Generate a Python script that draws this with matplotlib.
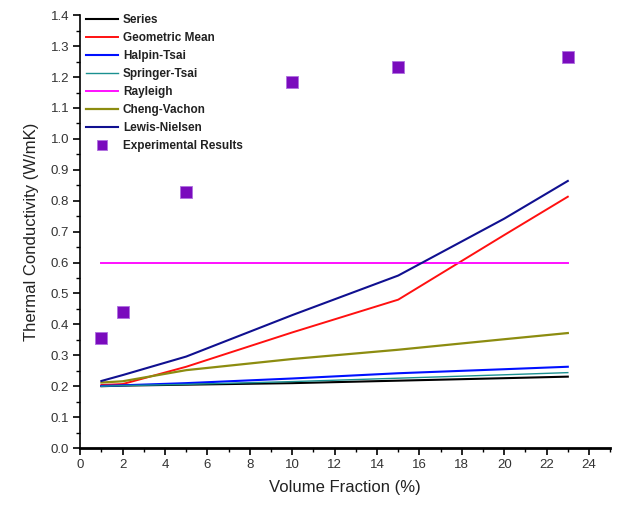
import matplotlib
matplotlib.use("Agg")
import matplotlib.pyplot as plt
from matplotlib.ticker import MultipleLocator

plt.rcParams['font.family'] = ['Liberation Sans', 'DejaVu Sans']

x_model = [1, 2, 5, 10, 15, 20, 23]
series = [0.200, 0.202, 0.205, 0.210, 0.218, 0.226, 0.231]
geometric = [0.204, 0.207, 0.263, 0.374, 0.480, 0.689, 0.813]
halpin = [0.201, 0.203, 0.210, 0.225, 0.242, 0.255, 0.263]
springer = [0.200, 0.202, 0.206, 0.215, 0.226, 0.237, 0.244]
rayleigh = [0.600, 0.600, 0.600, 0.600, 0.600, 0.600, 0.600]
cheng = [0.212, 0.216, 0.252, 0.288, 0.318, 0.352, 0.372]
lewis = [0.217, 0.236, 0.296, 0.430, 0.558, 0.742, 0.864]

x_exp = [1, 2, 5, 10, 15, 23]
y_exp = [0.355, 0.441, 0.829, 1.185, 1.234, 1.264]

xticks = [0, 2, 4, 6, 8, 10, 12, 14, 16, 18, 20, 22, 24]
yticks = [0.0, 0.1, 0.2, 0.3, 0.4, 0.5, 0.6, 0.7, 0.8, 0.9, 1.0, 1.1, 1.2, 1.3, 1.4]

fig = plt.figure(figsize=(6.17, 5.08), dpi=100)
ax = fig.add_axes([0.130, 0.118, 0.859, 0.852])

ax.plot(x_model, series, color='black', lw=1.5, label='Series', zorder=3)
ax.plot(x_model, geometric, color='#ff1010', lw=1.4, label='Geometric Mean', zorder=3)
ax.plot(x_model, halpin, color='#0010ff', lw=1.5, label='Halpin-Tsai', zorder=3)
ax.plot(x_model, springer, color='#1a9090', lw=1.0, label='Springer-Tsai', zorder=3)
ax.plot(x_model, rayleigh, color='#ff10ff', lw=1.4, label='Rayleigh', zorder=3)
ax.plot(x_model, cheng, color='#8c8c10', lw=1.6, label='Cheng-Vachon', zorder=3)
ax.plot(x_model, lewis, color='#101090', lw=1.5, label='Lewis-Nielsen', zorder=3)
ax.scatter(x_exp, y_exp, marker='s', s=70, color='#7a0bbd', edgecolors='#b070e0',
           linewidths=0.6, label='Experimental Results', zorder=4)

ax.set_xlim(0, 25)
ax.set_ylim(0, 1.4)
ax.set_xticks(xticks)
ax.set_yticks(yticks)
ax.set_yticklabels([f"{v:.1f}" for v in yticks])
ax.xaxis.set_minor_locator(MultipleLocator(1))
ax.yaxis.set_minor_locator(MultipleLocator(0.05))

for s in ['top', 'right']:
    ax.spines[s].set_visible(False)
ax.spines['bottom'].set_linewidth(2.0)
ax.spines['left'].set_linewidth(1.2)

ax.tick_params(axis='both', which='major', direction='out', length=5, width=1.2,
               labelsize=9.5, colors='black', labelcolor='#333333', pad=3)
ax.tick_params(axis='both', which='minor', direction='out', length=3, width=1.0)

ax.set_xlabel('Volume Fraction (%)', fontsize=12, color='#222222', labelpad=6)
ax.set_ylabel('Thermal Conductivity (W/mK)', fontsize=12, color='#222222', labelpad=8)

leg = ax.legend(loc='upper left', bbox_to_anchor=(0.139, 0.972), bbox_transform=fig.transFigure,
                frameon=False, prop={'weight': 'bold', 'size': 8.5},
                handlelength=2.7, handletextpad=0.45, labelspacing=0.5,
                borderaxespad=0, borderpad=0, markerscale=0.9)
for t in leg.get_texts():
    t.set_color('#222222')

fig.savefig('out.png', dpi=100)
